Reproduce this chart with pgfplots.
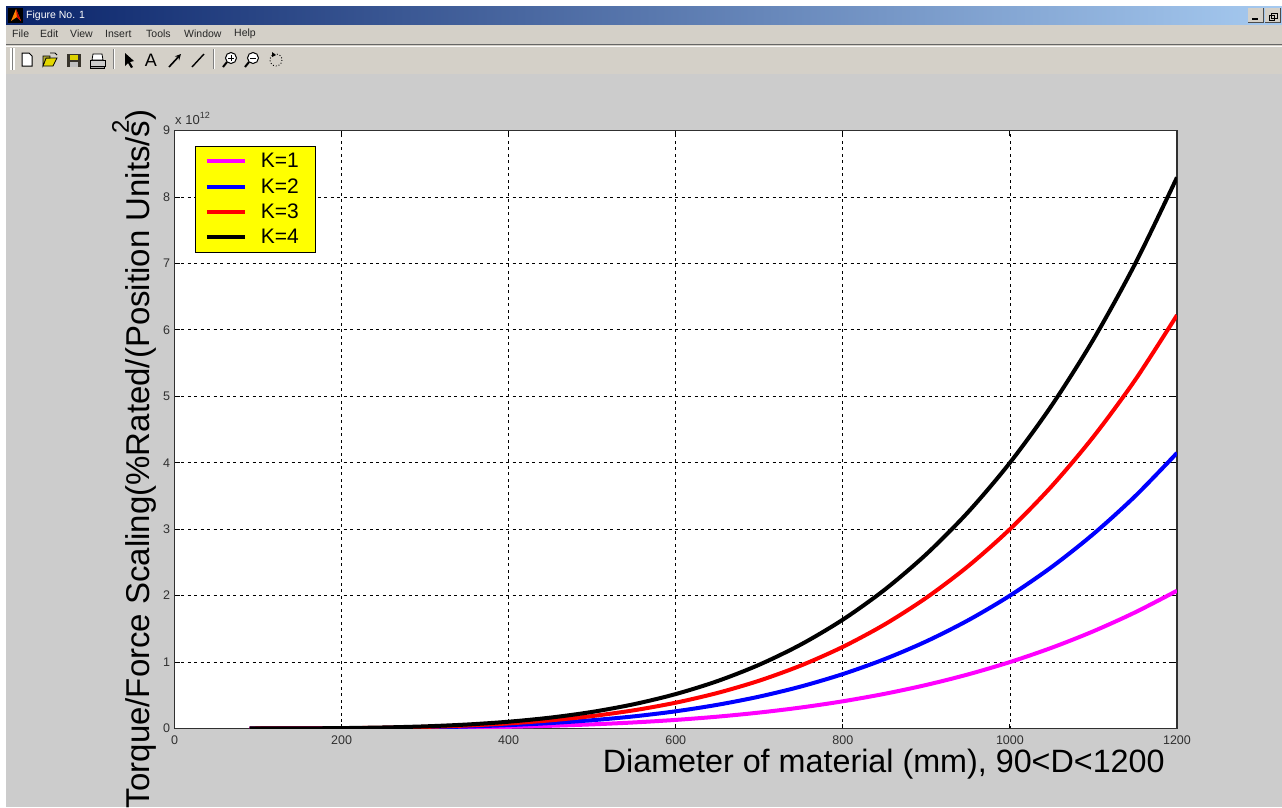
\documentclass[border=0pt]{standalone}
\usepackage{pgfplots}
\usepackage{fontspec}
\setmainfont{Liberation Sans}
\pgfplotsset{compat=1.18}
\definecolor{winbg}{HTML}{D4D0C8}
\definecolor{figbg}{HTML}{CCCCCC}
\definecolor{tickc}{HTML}{303030}
\definecolor{titleA}{HTML}{0A246A}
\definecolor{titleB}{HTML}{A6CAF0}
\definecolor{purem}{HTML}{FF00FF}
\definecolor{pureb}{HTML}{0000FF}
\definecolor{purer}{HTML}{FF0000}
\definecolor{purey}{HTML}{FFFF00}
\newcommand{\fs}[1]{\fontsize{#1}{#1}\selectfont}
\begin{document}
\begin{tikzpicture}[x=1pt,y=-1pt]
\useasboundingbox (0,0) rectangle (1282,807);
\fill[white] (0,0) rectangle (1282,807);
\fill[figbg] (6,74) rectangle (1282,807);
\fill[winbg] (6,24) rectangle (1282,74);
\shade[left color=titleA,right color=titleB] (6,6) rectangle (1282,24);
\draw[gray!80!black,line width=1pt] (6,44.5) -- (1282,44.5);
\draw[white!90!winbg,line width=1pt] (6,46) -- (1282,46);
% title bar
\fill[black] (8,8) rectangle (23,23);
\fill[orange] (11,21) -- (16,9) -- (21,21) -- (17,17) -- cycle;
\fill[red!80!black] (16,9) -- (21,21) -- (17,17) -- cycle;
\node[anchor=west,text=white,inner sep=0pt] at (26,15.5) {\fs{10.5}Figure No. 1};
\foreach \xx in {1248,1265}{
  \fill[winbg] (\xx,8) rectangle (\xx+15,22);
  \draw[gray!60!black] (\xx+15,8) -- (\xx+15,22) -- (\xx,22);
}
\fill[black] (1252,18) rectangle (1258,20);
\draw[black,line width=1pt] (1271,13) rectangle (1277,18);
\draw[black,line width=1pt] (1269,15) rectangle (1274,20);
% menu
\foreach \xx/\tt in {12/File,40/Edit,70/View,105/Insert,146/Tools,184/Window,234/Help}{
  \node[anchor=west,inner sep=0pt,text=black!85] at (\xx,34) {\fs{10.5}\tt};
}
% toolbar
\fill[white] (10,48) rectangle (12,70); \fill[gray] (12,48) rectangle (13,70);
\fill[white] (13,48) rectangle (15,70);
\draw[gray] (113,49) -- (113,69); \draw[white] (114,49) -- (114,69);
\draw[gray] (213,49) -- (213,69); \draw[white] (214,49) -- (214,69);
\draw[black,fill=white,line width=1pt] (22,53) -- (29,53) -- (32,56) -- (32,66) -- (22,66) -- cycle;
\draw[black,fill=yellow!75!olive,line width=.8pt] (43,66) -- (46,58) -- (57,58) -- (53,66) -- cycle;
\draw[black,fill=olive!70,line width=.6pt] (43,66) -- (43,56) -- (50,56) -- (50,58) -- (46,58) -- cycle;
\draw[black,line width=.8pt] (50,53) -- (55,53) -- (57,55);
\fill[black!80!olive] (67,54) rectangle (81,67);
\fill[yellow!70!olive] (70,55) rectangle (78,60);
\fill[gray!50] (70,62) rectangle (78,67);
\draw[black,fill=gray!40,line width=.8pt] (90,60) rectangle (105,66);
\draw[black,fill=white,line width=.8pt] (93,54) -- (102,54) -- (103,60) -- (92,60) -- cycle;
\draw[black,fill=gray!70,line width=.6pt] (90,66) rectangle (104,68);
\fill[black] (125,53) -- (125,66) -- (128,63) -- (131,68) -- (133,67) -- (130,62) -- (134,61) -- cycle;
\node[inner sep=0pt] at (151,60) {\fs{18}A};
\draw[black,line width=1.6pt,-stealth] (169,67) -- (181,54);
\draw[black,line width=1.4pt] (192,67) -- (204,54);
\foreach \xx/\pp in {231/1,253/0}{
  \draw[black,fill=white,line width=1pt] (\xx,58) circle (5.5);
  \draw[black,line width=2pt] (\xx-4,62) -- (\xx-8,67);
  \draw[black,line width=1pt] (\xx-3,58) -- (\xx+3,58);
  \ifnum\pp=1 \draw[black,line width=1pt] (\xx,55) -- (\xx,61);\fi
}
\draw[black,line width=.9pt,dotted] (276,60) circle (6);
\fill[black] (272,52) -- (276,55) -- (272,57) -- cycle;
\begin{axis}[
  at={(174.5pt,-728.5pt)},anchor=south west,
  scale only axis,width=1002.5pt,height=598pt,
  xmin=0,xmax=1200,ymin=0,ymax=9,
  xtick={0,200,400,600,800,1000,1200},
  ytick={0,1,2,3,4,5,6,7,8,9},
  axis background/.style={fill=white},
  axis line style={draw=tickc,line width=1.1pt},
  grid=major,
  major grid style={draw=black,line width=.8pt,dash pattern=on 3pt off 3.5pt},
  tick style={draw=black,line width=.9pt},
  major tick length=5pt,
  tick align=inside,
  /pgf/number format/1000 sep={},
  /pgf/number format/assume math mode=true,
  tick label style={font=\fs{12.5},text=tickc},
  xticklabel style={yshift=-4pt},
  yticklabel style={xshift=-1pt},
  xlabel={Diameter of material (mm), 90<D<1200},
  xlabel style={at={(axis description cs:0.7075,-0.059)},anchor=center,font=\fs{32.3},text=black,inner sep=0pt},
  ylabel={Torque/Force Scaling(\%Rated/(Position Units/s\llap{\raisebox{21pt}{\fs{24}2}})},
  ylabel style={at={(axis description cs:-0.040,0.451)},anchor=center,rotate=0,font=\fs{33},text=black,inner sep=0pt},
  legend style={at={(axis description cs:0.0209,0.9741)},anchor=north west,fill=purey,draw=black,line width=.7pt,
    font=\fs{21},text=black,row sep=5.2pt,inner xsep=9pt,inner ysep=5pt,
    /tikz/every odd column/.append style={column sep=12pt}},
  legend cell align=left,
  legend image code/.code={\draw[#1] (0pt,0pt) -- (38pt,0pt);},
  every axis plot/.append style={line width=4pt,line join=round,smooth},
  clip=true,
]
\addplot[color=purem] table {
90 0.0001
100 0.0001
150 0.0005
200 0.0016
250 0.0039
300 0.0081
350 0.0150
400 0.0256
450 0.0410
500 0.0625
550 0.0915
600 0.1296
650 0.1785
700 0.2401
750 0.3164
800 0.4096
850 0.5220
900 0.6561
950 0.8145
1000 1.0000
1050 1.2155
1100 1.4641
1150 1.7490
1200 2.0736
};
\addlegendentry{K=1\kern6pt}
\addplot[color=pureb] table {
90 0.0001
100 0.0002
150 0.0010
200 0.0032
250 0.0078
300 0.0162
350 0.0300
400 0.0512
450 0.0820
500 0.1250
550 0.1830
600 0.2592
650 0.3570
700 0.4802
750 0.6328
800 0.8192
850 1.0440
900 1.3122
950 1.6290
1000 2.0000
1050 2.4310
1100 2.9282
1150 3.4980
1200 4.1472
};
\addlegendentry{K=2\kern6pt}
\addplot[color=purer] table {
90 0.0002
100 0.0003
150 0.0015
200 0.0048
250 0.0117
300 0.0243
350 0.0450
400 0.0768
450 0.1230
500 0.1875
550 0.2745
600 0.3888
650 0.5355
700 0.7203
750 0.9492
800 1.2288
850 1.5660
900 1.9683
950 2.4435
1000 3.0000
1050 3.6465
1100 4.3923
1150 5.2470
1200 6.2208
};
\addlegendentry{K=3\kern6pt}
\addplot[color=black] table {
90 0.0003
100 0.0004
150 0.0020
200 0.0064
250 0.0156
300 0.0324
350 0.0600
400 0.1024
450 0.1640
500 0.2500
550 0.3660
600 0.5184
650 0.7140
700 0.9604
750 1.2656
800 1.6384
850 2.0880
900 2.6244
950 3.2580
1000 4.0000
1050 4.8620
1100 5.8564
1150 6.9960
1200 8.2944
};
\addlegendentry{K=4\kern6pt}
\end{axis}
\node[anchor=west,inner sep=0pt,text=tickc] at (175,118.5) {\fs{13}x 10\raisebox{6.5pt}{\fs{9}12}};
\end{tikzpicture}
\end{document}
